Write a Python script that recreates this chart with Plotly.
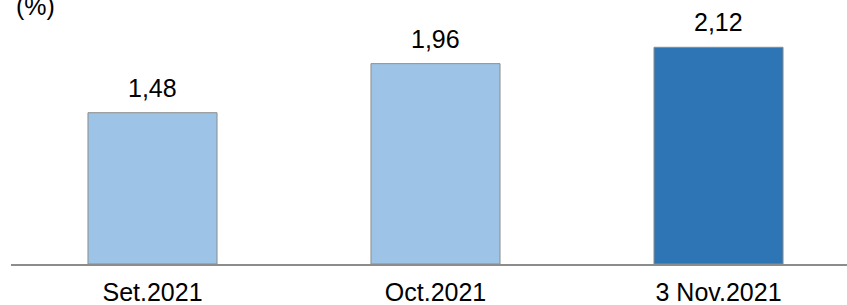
import plotly.graph_objects as go

categories = ["Set.2021", "Oct.2021", "3 Nov.2021"]
values = [1.48, 1.96, 2.12]
labels = ["1,48", "1,96", "2,12"]
colors = ["#9DC3E6", "#9DC3E6", "#2E75B6"]

fig = go.Figure(go.Bar(
    x=categories, y=values,
    marker=dict(color=colors, line=dict(color="#8C8C8C", width=1)),
    hoverinfo="skip",
))

value_labels = [
    dict(text=t, x=c, y=v, xref="x", yref="y", xanchor="center", yanchor="bottom",
         showarrow=False, yshift=9, font=dict(size=25))
    for c, v, t in zip(categories, values, labels)
]

fig.update_layout(
    width=847, height=305,
    margin=dict(l=11, r=0, t=20, b=41, autoexpand=False),
    paper_bgcolor="white", plot_bgcolor="white",
    font=dict(family="Liberation Sans, Arial, sans-serif", size=25, color="#000000"),
    bargap=0.544, showlegend=False,
    xaxis=dict(range=[-0.5, 2.454], showline=True, linecolor="#8C8C8C", linewidth=1.5,
               ticks="", showgrid=False, tickfont=dict(size=25), ticklabelstandoff=5,
               automargin=False),
    yaxis=dict(range=[0, 2.387], visible=False, showgrid=False, automargin=False),
    annotations=value_labels + [dict(text="(%)", x=0, y=1.0, xref="paper", yref="paper",
                      xanchor="left", yanchor="bottom", showarrow=False, xshift=3, yshift=-2,
                      font=dict(size=25))],
)

fig.write_html("out.html", config={"displayModeBar": False},
               post_script="document.body.style.margin='0';")
